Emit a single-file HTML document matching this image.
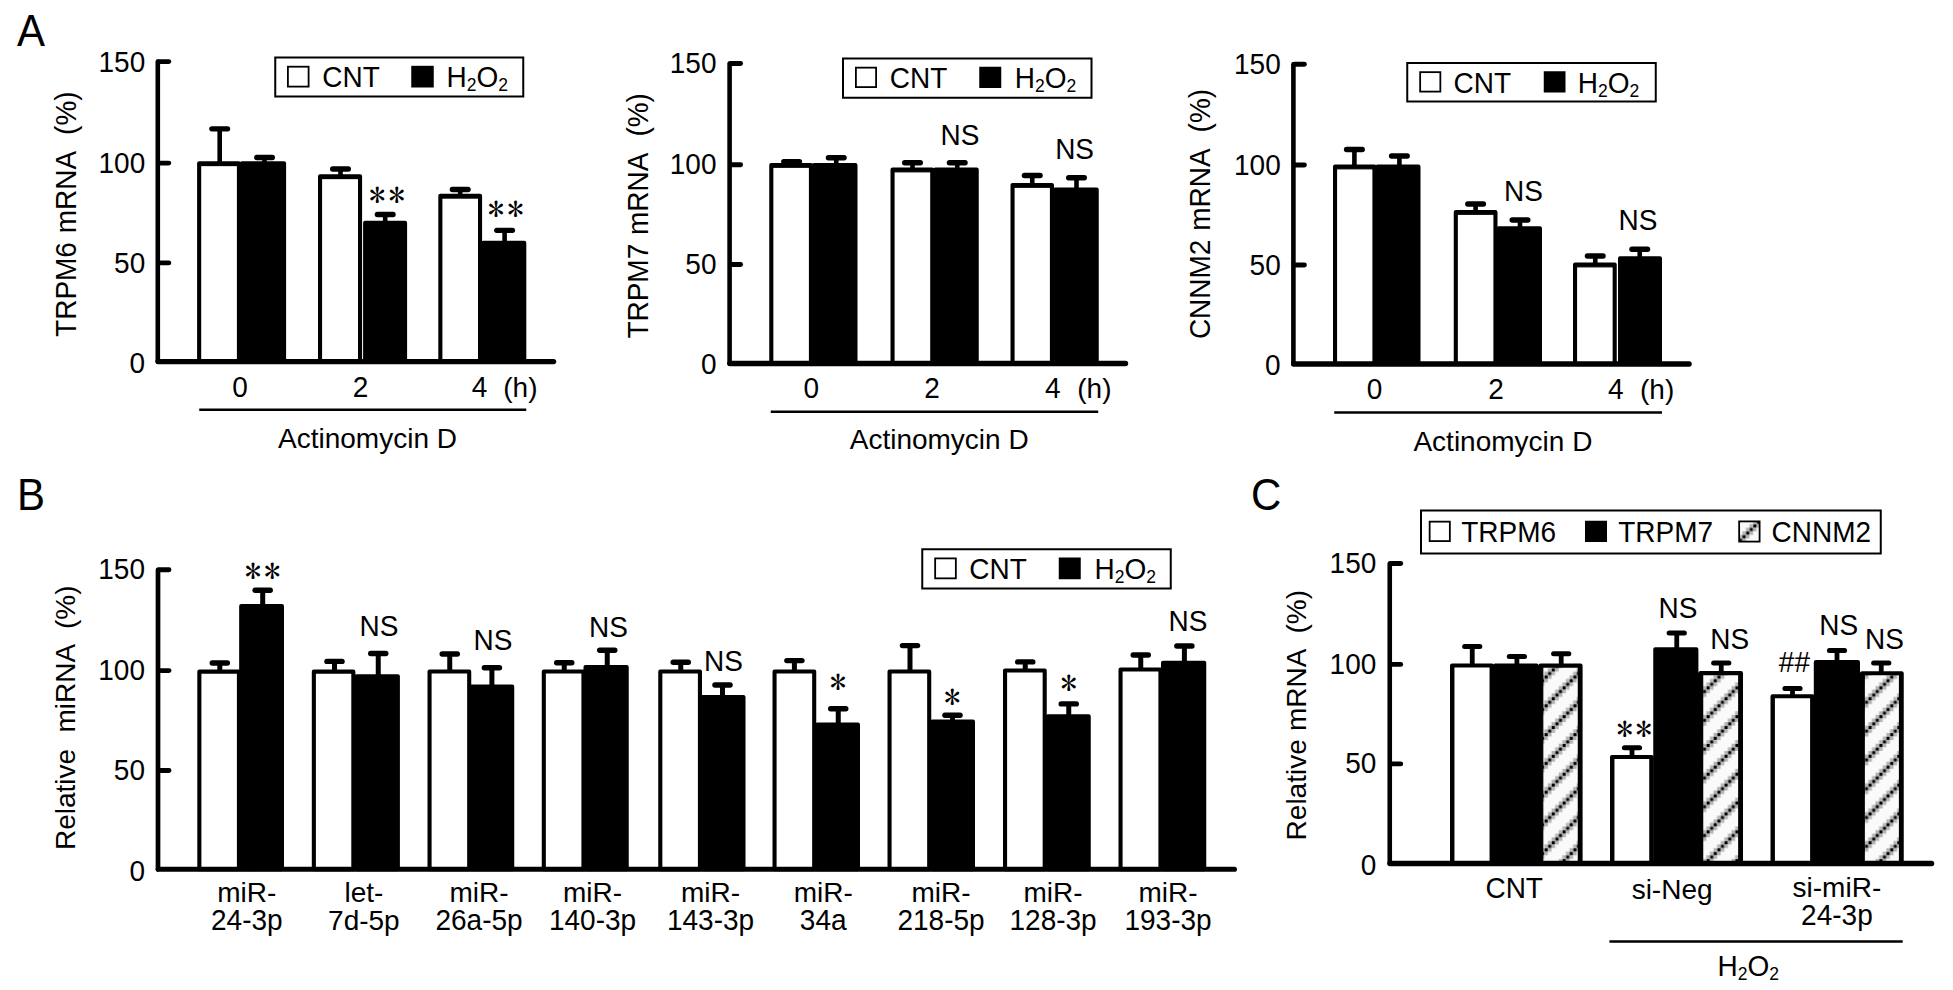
<!DOCTYPE html>
<html lang="en"><head><meta charset="utf-8"><title>Figure</title>
<style>
html,body{margin:0;padding:0;background:#fff;}
svg{display:block;}
text{font-family:"Liberation Sans","Arial",sans-serif;font-size:28px;fill:#000;}
.st{font-family:"IPAGothic","Liberation Serif",serif;font-size:33px;}
.pl{font-size:42px;}
</style></head><body>
<svg width="1953" height="990" viewBox="0 0 1953 990">
<defs>
<pattern id="hatch" patternUnits="userSpaceOnUse" width="28.8" height="28.8" x="1702.7" y="664.5">
<rect width="28.8" height="28.8" fill="#fafafa"/>
<rect x="25.2" y="25.2" width="3.6" height="3.6" fill="#b4b4b4"/>
<rect x="3.6" y="25.2" width="3.6" height="3.6" fill="#b4b4b4"/>
<rect x="0.0" y="21.6" width="3.6" height="3.6" fill="#b4b4b4"/>
<rect x="7.2" y="21.6" width="3.6" height="3.6" fill="#b4b4b4"/>
<rect x="3.6" y="18.0" width="3.6" height="3.6" fill="#b4b4b4"/>
<rect x="10.8" y="18.0" width="3.6" height="3.6" fill="#b4b4b4"/>
<rect x="7.2" y="14.4" width="3.6" height="3.6" fill="#b4b4b4"/>
<rect x="14.4" y="14.4" width="3.6" height="3.6" fill="#b4b4b4"/>
<rect x="10.8" y="10.8" width="3.6" height="3.6" fill="#b4b4b4"/>
<rect x="18.0" y="10.8" width="3.6" height="3.6" fill="#b4b4b4"/>
<rect x="14.4" y="7.2" width="3.6" height="3.6" fill="#b4b4b4"/>
<rect x="21.6" y="7.2" width="3.6" height="3.6" fill="#b4b4b4"/>
<rect x="18.0" y="3.6" width="3.6" height="3.6" fill="#b4b4b4"/>
<rect x="25.2" y="3.6" width="3.6" height="3.6" fill="#b4b4b4"/>
<rect x="21.6" y="0.0" width="3.6" height="3.6" fill="#b4b4b4"/>
<rect x="0.0" y="0.0" width="3.6" height="3.6" fill="#b4b4b4"/>
<rect x="0.20" y="25.40" width="3.2" height="3.2" fill="#000"/>
<rect x="3.80" y="21.80" width="3.2" height="3.2" fill="#000"/>
<rect x="7.40" y="18.20" width="3.2" height="3.2" fill="#000"/>
<rect x="11.00" y="14.60" width="3.2" height="3.2" fill="#000"/>
<rect x="14.60" y="11.00" width="3.2" height="3.2" fill="#000"/>
<rect x="18.20" y="7.40" width="3.2" height="3.2" fill="#000"/>
<rect x="21.80" y="3.80" width="3.2" height="3.2" fill="#000"/>
<rect x="25.40" y="0.20" width="3.2" height="3.2" fill="#000"/>
</pattern>
</defs>
<rect width="1953" height="990" fill="#fff"/>

<text transform="translate(17,46) scale(1,1.04)" class="pl">A</text>
<text transform="translate(16.9,510) scale(1,1.04)" class="pl">B</text>
<text transform="translate(1250.9,510.2) scale(1,1.04)" class="pl">C</text>
<rect x="199.15" y="163.3" width="39.8" height="198.3" fill="#fff" stroke="#000" stroke-width="4.1" stroke-linejoin="round"/>
<rect x="198.1" y="164.85" width="41.9" height="1.3" fill="#000"/>
<rect x="242.05" y="163.3" width="42" height="198.3" fill="#000" stroke="#000" stroke-width="4.1" stroke-linejoin="round"/>
<rect x="320.05" y="176.3" width="40" height="185.3" fill="#fff" stroke="#000" stroke-width="4.1" stroke-linejoin="round"/>
<rect x="319" y="177.85" width="42.1" height="1.3" fill="#000"/>
<rect x="365.15" y="222.75" width="39.9" height="138.85" fill="#000" stroke="#000" stroke-width="4.1" stroke-linejoin="round"/>
<rect x="440.35" y="195.85" width="39.7" height="165.75" fill="#fff" stroke="#000" stroke-width="4.1" stroke-linejoin="round"/>
<rect x="439.3" y="197.4" width="41.8" height="1.3" fill="#000"/>
<rect x="483.15" y="242.75" width="41.1" height="118.85" fill="#000" stroke="#000" stroke-width="4.1" stroke-linejoin="round"/>
<path d="M219.7,162.25V128.85" fill="none" stroke="#000" stroke-width="4.6"/>
<path d="M211.85,128.85H227.55" fill="none" stroke="#000" stroke-width="5.3" stroke-linecap="round"/>
<path d="M264.5,162.25V157.5" fill="none" stroke="#000" stroke-width="4.6"/>
<path d="M256.65,157.5H272.35" fill="none" stroke="#000" stroke-width="5.3" stroke-linecap="round"/>
<path d="M340.5,175.25V169" fill="none" stroke="#000" stroke-width="4.6"/>
<path d="M332.65,169H348.35" fill="none" stroke="#000" stroke-width="5.3" stroke-linecap="round"/>
<path d="M385.2,221.7V214.5" fill="none" stroke="#000" stroke-width="4.6"/>
<path d="M377.35,214.5H393.05" fill="none" stroke="#000" stroke-width="5.3" stroke-linecap="round"/>
<path d="M460.2,194.8V189.5" fill="none" stroke="#000" stroke-width="4.6"/>
<path d="M452.35,189.5H468.05" fill="none" stroke="#000" stroke-width="5.3" stroke-linecap="round"/>
<path d="M504.6,241.7V230.3" fill="none" stroke="#000" stroke-width="4.6"/>
<path d="M496.75,230.3H512.45" fill="none" stroke="#000" stroke-width="5.3" stroke-linecap="round"/>
<line x1="157.8" y1="61.6" x2="157.8" y2="361.6" stroke="#000" stroke-width="4.6" stroke-linecap="round"/>
<line x1="158" y1="361.6" x2="553.6" y2="361.6" stroke="#000" stroke-width="5.3" stroke-linecap="round"/>
<line x1="158.8" y1="61.6" x2="168.8" y2="61.6" stroke="#000" stroke-width="4.9" stroke-linecap="round"/>
<line x1="158.8" y1="163.1" x2="168.8" y2="163.1" stroke="#000" stroke-width="4.9" stroke-linecap="round"/>
<line x1="158.8" y1="262.9" x2="168.8" y2="262.9" stroke="#000" stroke-width="4.9" stroke-linecap="round"/>
<text transform="translate(145.2,71.9) scale(1,1.04)" text-anchor="end">150</text>
<text transform="translate(145.2,173.4) scale(1,1.04)" text-anchor="end">100</text>
<text transform="translate(145.2,273.2) scale(1,1.04)" text-anchor="end">50</text>
<text transform="translate(145.2,372.5) scale(1,1.04)" text-anchor="end">0</text>
<text transform="translate(75.5,336.9) rotate(-90) scale(1,1.04)" xml:space="preserve" style="white-space:pre" word-spacing="1">TRPM6 mRNA  (%)</text>
<text transform="translate(240,396.7) scale(1,1.04)" text-anchor="middle">0</text>
<text transform="translate(360.6,396.7) scale(1,1.04)" text-anchor="middle">2</text>
<text transform="translate(479.6,396.7) scale(1,1.04)" text-anchor="middle">4</text>
<text x="503.3" y="396.7">(h)</text>
<line x1="199.25" y1="409.75" x2="526.25" y2="409.75" stroke="#000" stroke-width="2.5"/>
<text x="367.5" y="448.3" text-anchor="middle">Actinomycin D</text>
<rect x="275.25" y="57.5" width="248" height="39" fill="#fff" stroke="#000" stroke-width="2"/>
<rect x="287.9" y="66.7" width="20.7" height="19.9" fill="#fff" stroke="#000" stroke-width="1.8"/>
<rect x="411.25" y="65.8" width="22.5" height="21.7" fill="#000"/>
<text transform="translate(322.3,87) scale(1,1.04)">CNT</text>
<text transform="translate(446.5,87) scale(1,1.04)">H<tspan font-size="17.5" dy="4">2</tspan><tspan dy="-4">O</tspan><tspan font-size="17.5" dy="4">2</tspan></text>
<text x="369" y="207.3" class="st">*</text>
<text x="388.4" y="207.3" class="st">*</text>
<text x="487.8" y="220.9" class="st">*</text>
<text x="507.2" y="220.9" class="st">*</text>
<rect x="771.3" y="165.05" width="39.65" height="198.45" fill="#fff" stroke="#000" stroke-width="4.1" stroke-linejoin="round"/>
<rect x="770.25" y="166.6" width="41.75" height="1.3" fill="#000"/>
<rect x="814.05" y="165.05" width="41.4" height="198.45" fill="#000" stroke="#000" stroke-width="4.1" stroke-linejoin="round"/>
<rect x="892.55" y="169.55" width="39.7" height="193.95" fill="#fff" stroke="#000" stroke-width="4.1" stroke-linejoin="round"/>
<rect x="891.5" y="171.1" width="41.8" height="1.3" fill="#000"/>
<rect x="935.35" y="169.55" width="41.35" height="193.95" fill="#000" stroke="#000" stroke-width="4.1" stroke-linejoin="round"/>
<rect x="1012.55" y="185.05" width="39.4" height="178.45" fill="#fff" stroke="#000" stroke-width="4.1" stroke-linejoin="round"/>
<rect x="1011.5" y="186.6" width="41.5" height="1.3" fill="#000"/>
<rect x="1055.05" y="189.55" width="41.65" height="173.95" fill="#000" stroke="#000" stroke-width="4.1" stroke-linejoin="round"/>
<path d="M791.6,164V161.6" fill="none" stroke="#000" stroke-width="4.6"/>
<path d="M783.75,161.6H799.45" fill="none" stroke="#000" stroke-width="5.3" stroke-linecap="round"/>
<path d="M836.25,164V157.75" fill="none" stroke="#000" stroke-width="4.6"/>
<path d="M828.4,157.75H844.1" fill="none" stroke="#000" stroke-width="5.3" stroke-linecap="round"/>
<path d="M912.5,168.5V162.75" fill="none" stroke="#000" stroke-width="4.6"/>
<path d="M904.65,162.75H920.35" fill="none" stroke="#000" stroke-width="5.3" stroke-linecap="round"/>
<path d="M957.25,168.5V162.75" fill="none" stroke="#000" stroke-width="4.6"/>
<path d="M949.4,162.75H965.1" fill="none" stroke="#000" stroke-width="5.3" stroke-linecap="round"/>
<path d="M1032.25,184V175.5" fill="none" stroke="#000" stroke-width="4.6"/>
<path d="M1024.4,175.5H1040.1" fill="none" stroke="#000" stroke-width="5.3" stroke-linecap="round"/>
<path d="M1076.5,188.5V177.75" fill="none" stroke="#000" stroke-width="4.6"/>
<path d="M1068.65,177.75H1084.35" fill="none" stroke="#000" stroke-width="5.3" stroke-linecap="round"/>
<line x1="729.6" y1="63.5" x2="729.6" y2="363.5" stroke="#000" stroke-width="4.6" stroke-linecap="round"/>
<line x1="729.8" y1="363.5" x2="1125.55" y2="363.5" stroke="#000" stroke-width="5.3" stroke-linecap="round"/>
<line x1="730.6" y1="63.5" x2="740.6" y2="63.5" stroke="#000" stroke-width="4.9" stroke-linecap="round"/>
<line x1="730.6" y1="164.7" x2="740.6" y2="164.7" stroke="#000" stroke-width="4.9" stroke-linecap="round"/>
<line x1="730.6" y1="264.5" x2="740.6" y2="264.5" stroke="#000" stroke-width="4.9" stroke-linecap="round"/>
<text transform="translate(716.5,73.2) scale(1,1.04)" text-anchor="end">150</text>
<text transform="translate(716.5,174.4) scale(1,1.04)" text-anchor="end">100</text>
<text transform="translate(716.5,274.2) scale(1,1.04)" text-anchor="end">50</text>
<text transform="translate(716.5,374.4) scale(1,1.04)" text-anchor="end">0</text>
<text transform="translate(647.9,338.6) rotate(-90) scale(1,1.04)" xml:space="preserve" style="white-space:pre" word-spacing="1">TRPM7 mRNA  (%)</text>
<text transform="translate(811.4,397.8) scale(1,1.04)" text-anchor="middle">0</text>
<text transform="translate(932.1,397.8) scale(1,1.04)" text-anchor="middle">2</text>
<text transform="translate(1052.9,397.8) scale(1,1.04)" text-anchor="middle">4</text>
<text x="1077.3" y="397.8">(h)</text>
<line x1="770.75" y1="411.75" x2="1098.2" y2="411.75" stroke="#000" stroke-width="2.5"/>
<text x="939.2" y="449.3" text-anchor="middle">Actinomycin D</text>
<rect x="843" y="58.5" width="248.5" height="39.25" fill="#fff" stroke="#000" stroke-width="2"/>
<rect x="855.9" y="67.65" width="20.2" height="19.45" fill="#fff" stroke="#000" stroke-width="1.8"/>
<rect x="979.25" y="66.75" width="22" height="21.25" fill="#000"/>
<text transform="translate(889.8,88) scale(1,1.04)">CNT</text>
<text transform="translate(1014.75,88) scale(1,1.04)">H<tspan font-size="17.5" dy="4">2</tspan><tspan dy="-4">O</tspan><tspan font-size="17.5" dy="4">2</tspan></text>
<text transform="translate(959.9,145) scale(1,1.04)" text-anchor="middle">NS</text>
<text transform="translate(1074.6,158.75) scale(1,1.04)" text-anchor="middle">NS</text>
<rect x="1335.05" y="166.55" width="39.4" height="197.45" fill="#fff" stroke="#000" stroke-width="4.1" stroke-linejoin="round"/>
<rect x="1334" y="168.1" width="41.5" height="1.3" fill="#000"/>
<rect x="1377.55" y="166.55" width="40.9" height="197.45" fill="#000" stroke="#000" stroke-width="4.1" stroke-linejoin="round"/>
<rect x="1455.8" y="212.05" width="39.65" height="151.95" fill="#fff" stroke="#000" stroke-width="4.1" stroke-linejoin="round"/>
<rect x="1454.75" y="213.6" width="41.75" height="1.3" fill="#000"/>
<rect x="1498.55" y="228.3" width="41.4" height="135.7" fill="#000" stroke="#000" stroke-width="4.1" stroke-linejoin="round"/>
<rect x="1575.05" y="264.55" width="39.65" height="99.45" fill="#fff" stroke="#000" stroke-width="4.1" stroke-linejoin="round"/>
<rect x="1574" y="266.1" width="41.75" height="1.3" fill="#000"/>
<rect x="1620.05" y="258.3" width="39.9" height="105.7" fill="#000" stroke="#000" stroke-width="4.1" stroke-linejoin="round"/>
<path d="M1354.4,165.5V149.5" fill="none" stroke="#000" stroke-width="4.6"/>
<path d="M1346.55,149.5H1362.25" fill="none" stroke="#000" stroke-width="5.3" stroke-linecap="round"/>
<path d="M1399.4,165.5V156" fill="none" stroke="#000" stroke-width="4.6"/>
<path d="M1391.55,156H1407.25" fill="none" stroke="#000" stroke-width="5.3" stroke-linecap="round"/>
<path d="M1475.6,211V204" fill="none" stroke="#000" stroke-width="4.6"/>
<path d="M1467.75,204H1483.45" fill="none" stroke="#000" stroke-width="5.3" stroke-linecap="round"/>
<path d="M1520,227.25V220" fill="none" stroke="#000" stroke-width="4.6"/>
<path d="M1512.15,220H1527.85" fill="none" stroke="#000" stroke-width="5.3" stroke-linecap="round"/>
<path d="M1595.25,263.5V256" fill="none" stroke="#000" stroke-width="4.6"/>
<path d="M1587.4,256H1603.1" fill="none" stroke="#000" stroke-width="5.3" stroke-linecap="round"/>
<path d="M1639.75,257.25V249.25" fill="none" stroke="#000" stroke-width="4.6"/>
<path d="M1631.9,249.25H1647.6" fill="none" stroke="#000" stroke-width="5.3" stroke-linecap="round"/>
<line x1="1293.4" y1="64.25" x2="1293.4" y2="364" stroke="#000" stroke-width="4.6" stroke-linecap="round"/>
<line x1="1293.6" y1="364" x2="1689.1" y2="364" stroke="#000" stroke-width="5.3" stroke-linecap="round"/>
<line x1="1294.4" y1="64.25" x2="1304.4" y2="64.25" stroke="#000" stroke-width="4.9" stroke-linecap="round"/>
<line x1="1294.4" y1="165" x2="1304.4" y2="165" stroke="#000" stroke-width="4.9" stroke-linecap="round"/>
<line x1="1294.4" y1="265" x2="1304.4" y2="265" stroke="#000" stroke-width="4.9" stroke-linecap="round"/>
<text transform="translate(1280.7,73.95) scale(1,1.04)" text-anchor="end">150</text>
<text transform="translate(1280.7,174.7) scale(1,1.04)" text-anchor="end">100</text>
<text transform="translate(1280.7,274.7) scale(1,1.04)" text-anchor="end">50</text>
<text transform="translate(1280.7,374.9) scale(1,1.04)" text-anchor="end">0</text>
<text transform="translate(1210.4,339.1) rotate(-90) scale(1,1.04)" xml:space="preserve" style="white-space:pre" word-spacing="1">CNNM2 mRNA  (%)</text>
<text transform="translate(1374.6,399.2) scale(1,1.04)" text-anchor="middle">0</text>
<text transform="translate(1496.1,399.2) scale(1,1.04)" text-anchor="middle">2</text>
<text transform="translate(1615.9,399.2) scale(1,1.04)" text-anchor="middle">4</text>
<text x="1640" y="399.2">(h)</text>
<line x1="1334.25" y1="412.5" x2="1662" y2="412.5" stroke="#000" stroke-width="2.5"/>
<text x="1502.9" y="450.75" text-anchor="middle">Actinomycin D</text>
<rect x="1407.25" y="63" width="248.5" height="38.5" fill="#fff" stroke="#000" stroke-width="2"/>
<rect x="1420.15" y="72.15" width="20.2" height="19.45" fill="#fff" stroke="#000" stroke-width="1.8"/>
<rect x="1543.75" y="71.25" width="21.75" height="21.25" fill="#000"/>
<text transform="translate(1453.6,92.5) scale(1,1.04)">CNT</text>
<text transform="translate(1577.8,92.5) scale(1,1.04)">H<tspan font-size="17.5" dy="4">2</tspan><tspan dy="-4">O</tspan><tspan font-size="17.5" dy="4">2</tspan></text>
<text transform="translate(1523.5,200.5) scale(1,1.04)" text-anchor="middle">NS</text>
<text transform="translate(1637.9,229.5) scale(1,1.04)" text-anchor="middle">NS</text>
<rect x="199.35" y="671.65" width="39.6" height="197.65" fill="#fff" stroke="#000" stroke-width="4.1" stroke-linejoin="round"/>
<rect x="241.2" y="606.15" width="40.75" height="263.15" fill="#000" stroke="#000" stroke-width="4.1" stroke-linejoin="round"/>
<path d="M219.8,670.6V663" fill="none" stroke="#000" stroke-width="5.0"/>
<path d="M212.25,663H227.35" fill="none" stroke="#000" stroke-width="5.4" stroke-linecap="round"/>
<path d="M262.7,605.1V590.3" fill="none" stroke="#000" stroke-width="5.0"/>
<path d="M255.15,590.3H270.25" fill="none" stroke="#000" stroke-width="5.4" stroke-linecap="round"/>
<rect x="313.85" y="671.65" width="39.5" height="197.65" fill="#fff" stroke="#000" stroke-width="4.1" stroke-linejoin="round"/>
<rect x="356.45" y="676.35" width="41.4" height="192.95" fill="#000" stroke="#000" stroke-width="4.1" stroke-linejoin="round"/>
<path d="M334.5,670.6V661.4" fill="none" stroke="#000" stroke-width="5.0"/>
<path d="M326.95,661.4H342.05" fill="none" stroke="#000" stroke-width="5.4" stroke-linecap="round"/>
<path d="M378.25,675.3V653.5" fill="none" stroke="#000" stroke-width="5.0"/>
<path d="M370.7,653.5H385.8" fill="none" stroke="#000" stroke-width="5.4" stroke-linecap="round"/>
<rect x="429.55" y="671.55" width="39.65" height="197.75" fill="#fff" stroke="#000" stroke-width="4.1" stroke-linejoin="round"/>
<rect x="471.55" y="686.55" width="40.65" height="182.75" fill="#000" stroke="#000" stroke-width="4.1" stroke-linejoin="round"/>
<path d="M449.75,670.5V654" fill="none" stroke="#000" stroke-width="5.0"/>
<path d="M442.2,654H457.3" fill="none" stroke="#000" stroke-width="5.4" stroke-linecap="round"/>
<path d="M491.9,685.5V667.75" fill="none" stroke="#000" stroke-width="5.0"/>
<path d="M484.35,667.75H499.45" fill="none" stroke="#000" stroke-width="5.4" stroke-linecap="round"/>
<rect x="543.8" y="671.55" width="39.65" height="197.75" fill="#fff" stroke="#000" stroke-width="4.1" stroke-linejoin="round"/>
<rect x="585.55" y="667.05" width="41.15" height="202.25" fill="#000" stroke="#000" stroke-width="4.1" stroke-linejoin="round"/>
<path d="M564.25,670.5V662.75" fill="none" stroke="#000" stroke-width="5.0"/>
<path d="M556.7,662.75H571.8" fill="none" stroke="#000" stroke-width="5.4" stroke-linecap="round"/>
<path d="M607.25,666V650.25" fill="none" stroke="#000" stroke-width="5.0"/>
<path d="M599.7,650.25H614.8" fill="none" stroke="#000" stroke-width="5.4" stroke-linecap="round"/>
<rect x="660.3" y="671.55" width="39.65" height="197.75" fill="#fff" stroke="#000" stroke-width="4.1" stroke-linejoin="round"/>
<rect x="702.55" y="697.05" width="40.9" height="172.25" fill="#000" stroke="#000" stroke-width="4.1" stroke-linejoin="round"/>
<path d="M680.75,670.5V662.25" fill="none" stroke="#000" stroke-width="5.0"/>
<path d="M673.2,662.25H688.3" fill="none" stroke="#000" stroke-width="5.4" stroke-linecap="round"/>
<path d="M722.5,696V685" fill="none" stroke="#000" stroke-width="5.0"/>
<path d="M714.95,685H730.05" fill="none" stroke="#000" stroke-width="5.4" stroke-linecap="round"/>
<rect x="774.55" y="671.55" width="39.65" height="197.75" fill="#fff" stroke="#000" stroke-width="4.1" stroke-linejoin="round"/>
<rect x="817.3" y="724.55" width="40.65" height="144.75" fill="#000" stroke="#000" stroke-width="4.1" stroke-linejoin="round"/>
<path d="M794.4,670.5V660.6" fill="none" stroke="#000" stroke-width="5.0"/>
<path d="M786.85,660.6H801.95" fill="none" stroke="#000" stroke-width="5.4" stroke-linecap="round"/>
<path d="M838.25,723.5V708.75" fill="none" stroke="#000" stroke-width="5.0"/>
<path d="M830.7,708.75H845.8" fill="none" stroke="#000" stroke-width="5.4" stroke-linecap="round"/>
<rect x="889.55" y="671.55" width="39.65" height="197.75" fill="#fff" stroke="#000" stroke-width="4.1" stroke-linejoin="round"/>
<rect x="932.3" y="721.55" width="40.65" height="147.75" fill="#000" stroke="#000" stroke-width="4.1" stroke-linejoin="round"/>
<path d="M910,670.5V645.6" fill="none" stroke="#000" stroke-width="5.0"/>
<path d="M902.45,645.6H917.55" fill="none" stroke="#000" stroke-width="5.4" stroke-linecap="round"/>
<path d="M952.5,720.5V715.25" fill="none" stroke="#000" stroke-width="5.0"/>
<path d="M944.95,715.25H960.05" fill="none" stroke="#000" stroke-width="5.4" stroke-linecap="round"/>
<rect x="1005.05" y="670.55" width="39.65" height="198.75" fill="#fff" stroke="#000" stroke-width="4.1" stroke-linejoin="round"/>
<rect x="1047.8" y="716.3" width="40.9" height="153" fill="#000" stroke="#000" stroke-width="4.1" stroke-linejoin="round"/>
<path d="M1025.25,669.5V661.9" fill="none" stroke="#000" stroke-width="5.0"/>
<path d="M1017.7,661.9H1032.8" fill="none" stroke="#000" stroke-width="5.4" stroke-linecap="round"/>
<path d="M1068.75,715.25V703.9" fill="none" stroke="#000" stroke-width="5.0"/>
<path d="M1061.2,703.9H1076.3" fill="none" stroke="#000" stroke-width="5.4" stroke-linecap="round"/>
<rect x="1120.55" y="669.55" width="39.9" height="199.75" fill="#fff" stroke="#000" stroke-width="4.1" stroke-linejoin="round"/>
<rect x="1163.05" y="662.8" width="41.15" height="206.5" fill="#000" stroke="#000" stroke-width="4.1" stroke-linejoin="round"/>
<path d="M1140.75,668.5V655" fill="none" stroke="#000" stroke-width="5.0"/>
<path d="M1133.2,655H1148.3" fill="none" stroke="#000" stroke-width="5.4" stroke-linecap="round"/>
<path d="M1184.4,661.75V646" fill="none" stroke="#000" stroke-width="5.0"/>
<path d="M1176.85,646H1191.95" fill="none" stroke="#000" stroke-width="5.4" stroke-linecap="round"/>
<line x1="158" y1="569.75" x2="158" y2="869.3" stroke="#000" stroke-width="4.7" stroke-linecap="round"/>
<line x1="158.2" y1="869.3" x2="1234.45" y2="869.3" stroke="#000" stroke-width="5.1" stroke-linecap="round"/>
<line x1="159" y1="569.75" x2="169" y2="569.75" stroke="#000" stroke-width="4.8" stroke-linecap="round"/>
<line x1="159" y1="670.6" x2="169" y2="670.6" stroke="#000" stroke-width="4.8" stroke-linecap="round"/>
<line x1="159" y1="770.5" x2="169" y2="770.5" stroke="#000" stroke-width="4.8" stroke-linecap="round"/>
<text transform="translate(145,579.35) scale(1,1.04)" text-anchor="end">150</text>
<text transform="translate(145,680.2) scale(1,1.04)" text-anchor="end">100</text>
<text transform="translate(145,780.1) scale(1,1.04)" text-anchor="end">50</text>
<text transform="translate(145,881) scale(1,1.04)" text-anchor="end">0</text>
<text transform="translate(75,850) rotate(-90)" xml:space="preserve" style="white-space:pre" word-spacing="0.4">Relative  miRNA  (%)</text>
<rect x="922.25" y="549.25" width="248.5" height="39.25" fill="#fff" stroke="#000" stroke-width="2"/>
<rect x="935.15" y="558.4" width="20.7" height="19.95" fill="#fff" stroke="#000" stroke-width="1.8"/>
<rect x="1058.75" y="557.5" width="22" height="21.75" fill="#000"/>
<text transform="translate(969.3,578.75) scale(1,1.04)">CNT</text>
<text transform="translate(1094.5,578.75) scale(1,1.04)">H<tspan font-size="17.5" dy="4">2</tspan><tspan dy="-4">O</tspan><tspan font-size="17.5" dy="4">2</tspan></text>
<text x="244.85" y="583" class="st">*</text>
<text x="263.95" y="583" class="st">*</text>
<text transform="translate(379,636) scale(1,1.04)" text-anchor="middle">NS</text>
<text transform="translate(492.9,650) scale(1,1.04)" text-anchor="middle">NS</text>
<text transform="translate(608.4,636.75) scale(1,1.04)" text-anchor="middle">NS</text>
<text transform="translate(723.4,670.5) scale(1,1.04)" text-anchor="middle">NS</text>
<text x="829.75" y="694.1" class="st">*</text>
<text x="944" y="708.7" class="st">*</text>
<text x="1060.6" y="695" class="st">*</text>
<text transform="translate(1187.9,630.5) scale(1,1.04)" text-anchor="middle">NS</text>
<text x="246.8" y="901.8" text-anchor="middle">miR-</text>
<text transform="translate(246.8,929.75) scale(1,1.04)" text-anchor="middle">24-3p</text>
<text x="363.9" y="901.8" text-anchor="middle">let-</text>
<text x="363.9" y="929.75" text-anchor="middle">7d-5p</text>
<text x="479" y="901.8" text-anchor="middle">miR-</text>
<text transform="translate(479,929.75) scale(1,1.04)" text-anchor="middle">26a-5p</text>
<text x="592.5" y="901.8" text-anchor="middle">miR-</text>
<text transform="translate(592.5,929.75) scale(1,1.04)" text-anchor="middle">140-3p</text>
<text x="710.5" y="901.8" text-anchor="middle">miR-</text>
<text transform="translate(710.5,929.75) scale(1,1.04)" text-anchor="middle">143-3p</text>
<text x="823.2" y="901.8" text-anchor="middle">miR-</text>
<text transform="translate(823.2,929.75) scale(1,1.04)" text-anchor="middle">34a</text>
<text x="941" y="901.8" text-anchor="middle">miR-</text>
<text transform="translate(941,929.75) scale(1,1.04)" text-anchor="middle">218-5p</text>
<text x="1053.1" y="901.8" text-anchor="middle">miR-</text>
<text transform="translate(1053.1,929.75) scale(1,1.04)" text-anchor="middle">128-3p</text>
<text x="1168" y="901.8" text-anchor="middle">miR-</text>
<text transform="translate(1168,929.75) scale(1,1.04)" text-anchor="middle">193-3p</text>
<rect x="1452.05" y="665.45" width="39.9" height="198.05" fill="#fff" stroke="#000" stroke-width="4.1" stroke-linejoin="round"/>
<rect x="1453.6" y="664.4" width="0.8" height="199.1" fill="#000"/>
<rect x="1489.6" y="664.4" width="0.8" height="199.1" fill="#000"/>
<path d="M1472.25,664.4V646.5" fill="none" stroke="#000" stroke-width="4.8"/>
<path d="M1464.65,646.5H1479.85" fill="none" stroke="#000" stroke-width="5.0" stroke-linecap="round"/>
<rect x="1495.05" y="665.45" width="41.5" height="198.05" fill="#000" stroke="#000" stroke-width="4.1" stroke-linejoin="round"/>
<path d="M1516.9,664.4V656.5" fill="none" stroke="#000" stroke-width="4.8"/>
<path d="M1509.3,656.5H1524.5" fill="none" stroke="#000" stroke-width="5.0" stroke-linecap="round"/>
<rect x="1540.55" y="665.65" width="40" height="197.85" fill="url(#hatch)" stroke="#000" stroke-width="4.1" stroke-linejoin="round"/>
<rect x="1542.1" y="664.6" width="1.25" height="198.9" fill="#000"/>
<rect x="1577.75" y="664.6" width="1.25" height="198.9" fill="#000"/>
<path d="M1561.2,664.6V653.7" fill="none" stroke="#000" stroke-width="4.8"/>
<path d="M1553.6,653.7H1568.8" fill="none" stroke="#000" stroke-width="5.0" stroke-linecap="round"/>
<rect x="1612.05" y="757.05" width="39.65" height="106.45" fill="#fff" stroke="#000" stroke-width="4.1" stroke-linejoin="round"/>
<rect x="1613.6" y="756" width="0.8" height="107.5" fill="#000"/>
<rect x="1649.35" y="756" width="0.8" height="107.5" fill="#000"/>
<path d="M1632,756V747.75" fill="none" stroke="#000" stroke-width="4.8"/>
<path d="M1624.4,747.75H1639.6" fill="none" stroke="#000" stroke-width="5.0" stroke-linecap="round"/>
<rect x="1655.3" y="649.3" width="41.05" height="214.2" fill="#000" stroke="#000" stroke-width="4.1" stroke-linejoin="round"/>
<path d="M1676.75,648.25V633.1" fill="none" stroke="#000" stroke-width="4.8"/>
<path d="M1669.15,633.1H1684.35" fill="none" stroke="#000" stroke-width="5.0" stroke-linecap="round"/>
<rect x="1700.45" y="673.15" width="40.5" height="190.35" fill="url(#hatch)" stroke="#000" stroke-width="4.1" stroke-linejoin="round"/>
<rect x="1702" y="672.1" width="1.25" height="191.4" fill="#000"/>
<rect x="1738.15" y="672.1" width="1.25" height="191.4" fill="#000"/>
<path d="M1721.25,672.1V663" fill="none" stroke="#000" stroke-width="4.8"/>
<path d="M1713.65,663H1728.85" fill="none" stroke="#000" stroke-width="5.0" stroke-linecap="round"/>
<rect x="1772.55" y="696.3" width="40" height="167.2" fill="#fff" stroke="#000" stroke-width="4.1" stroke-linejoin="round"/>
<rect x="1774.1" y="695.25" width="0.8" height="168.25" fill="#000"/>
<rect x="1810.2" y="695.25" width="0.8" height="168.25" fill="#000"/>
<path d="M1792.5,695.25V688.5" fill="none" stroke="#000" stroke-width="4.8"/>
<path d="M1784.9,688.5H1800.1" fill="none" stroke="#000" stroke-width="5.0" stroke-linecap="round"/>
<rect x="1815.85" y="662.05" width="42.1" height="201.45" fill="#000" stroke="#000" stroke-width="4.1" stroke-linejoin="round"/>
<path d="M1837,661V650.6" fill="none" stroke="#000" stroke-width="4.8"/>
<path d="M1829.4,650.6H1844.6" fill="none" stroke="#000" stroke-width="5.0" stroke-linecap="round"/>
<rect x="1862.05" y="673.3" width="39.65" height="190.2" fill="url(#hatch)" stroke="#000" stroke-width="4.1" stroke-linejoin="round"/>
<rect x="1863.6" y="672.25" width="1.25" height="191.25" fill="#000"/>
<rect x="1898.9" y="672.25" width="1.25" height="191.25" fill="#000"/>
<path d="M1881.25,672.25V663" fill="none" stroke="#000" stroke-width="4.8"/>
<path d="M1873.65,663H1888.85" fill="none" stroke="#000" stroke-width="5.0" stroke-linecap="round"/>
<rect x="1537.5" y="665.1" width="2" height="198.4" fill="#000"/>
<rect x="1697.4" y="672.6" width="2" height="190.9" fill="#000"/>
<rect x="1859" y="672.75" width="2" height="190.75" fill="#000"/>
<line x1="1389.75" y1="563.5" x2="1389.75" y2="863.5" stroke="#000" stroke-width="4.6" stroke-linecap="round"/>
<line x1="1389.95" y1="863.5" x2="1931.6" y2="863.5" stroke="#000" stroke-width="5.3" stroke-linecap="round"/>
<line x1="1390.75" y1="563.5" x2="1400.75" y2="563.5" stroke="#000" stroke-width="4.8" stroke-linecap="round"/>
<line x1="1390.75" y1="664.4" x2="1400.75" y2="664.4" stroke="#000" stroke-width="4.8" stroke-linecap="round"/>
<line x1="1390.75" y1="763.9" x2="1400.75" y2="763.9" stroke="#000" stroke-width="4.8" stroke-linecap="round"/>
<text transform="translate(1376.3,573) scale(1,1.04)" text-anchor="end">150</text>
<text transform="translate(1376.3,673.9) scale(1,1.04)" text-anchor="end">100</text>
<text transform="translate(1376.3,773.4) scale(1,1.04)" text-anchor="end">50</text>
<text transform="translate(1376.3,874.7) scale(1,1.04)" text-anchor="end">0</text>
<text transform="translate(1306.25,840.4) rotate(-90)" xml:space="preserve" style="white-space:pre" word-spacing="0.5">Relative mRNA  (%)</text>
<rect x="1421" y="510.5" width="459.75" height="43" fill="#fff" stroke="#000" stroke-width="2"/>
<rect x="1429.65" y="521.65" width="20.2" height="19.45" fill="#fff" stroke="#000" stroke-width="1.8"/>
<text transform="translate(1461.2,542) scale(1,1.04)">TRPM6</text>
<rect x="1585" y="520.75" width="22" height="21.25" fill="#000"/>
<text transform="translate(1618.2,542) scale(1,1.04)">TRPM7</text>
<rect x="1739.15" y="521.4" width="20.45" height="20.2" fill="url(#hatch)" stroke="#000" stroke-width="1.8"/>
<text transform="translate(1771.6,542) scale(1,1.04)">CNNM2</text>
<text x="1616.4" y="741.4" class="st">*</text>
<text x="1635.6" y="741.4" class="st">*</text>
<text transform="translate(1677.9,617.5) scale(1,1.04)" text-anchor="middle">NS</text>
<text transform="translate(1729.75,648.75) scale(1,1.04)" text-anchor="middle">NS</text>
<text transform="translate(1794.4,671.7) scale(1,1.04)" text-anchor="middle">##</text>
<text transform="translate(1838.75,635) scale(1,1.04)" text-anchor="middle">NS</text>
<text transform="translate(1884.4,648.75) scale(1,1.04)" text-anchor="middle">NS</text>
<text transform="translate(1514.2,898.4) scale(1,1.04)" text-anchor="middle">CNT</text>
<text x="1672.1" y="898.6" text-anchor="middle">si-Neg</text>
<text x="1836.9" y="896.6" text-anchor="middle">si-miR-</text>
<text transform="translate(1836.9,924.6) scale(1,1.04)" text-anchor="middle">24-3p</text>
<line x1="1609.4" y1="941.5" x2="1902.7" y2="941.5" stroke="#000" stroke-width="2.5"/>
<text transform="translate(1717.6,975.9) scale(1,1.04)">H<tspan font-size="17.5" dy="4">2</tspan><tspan dy="-4">O</tspan><tspan font-size="17.5" dy="4">2</tspan></text>
</svg></body></html>
